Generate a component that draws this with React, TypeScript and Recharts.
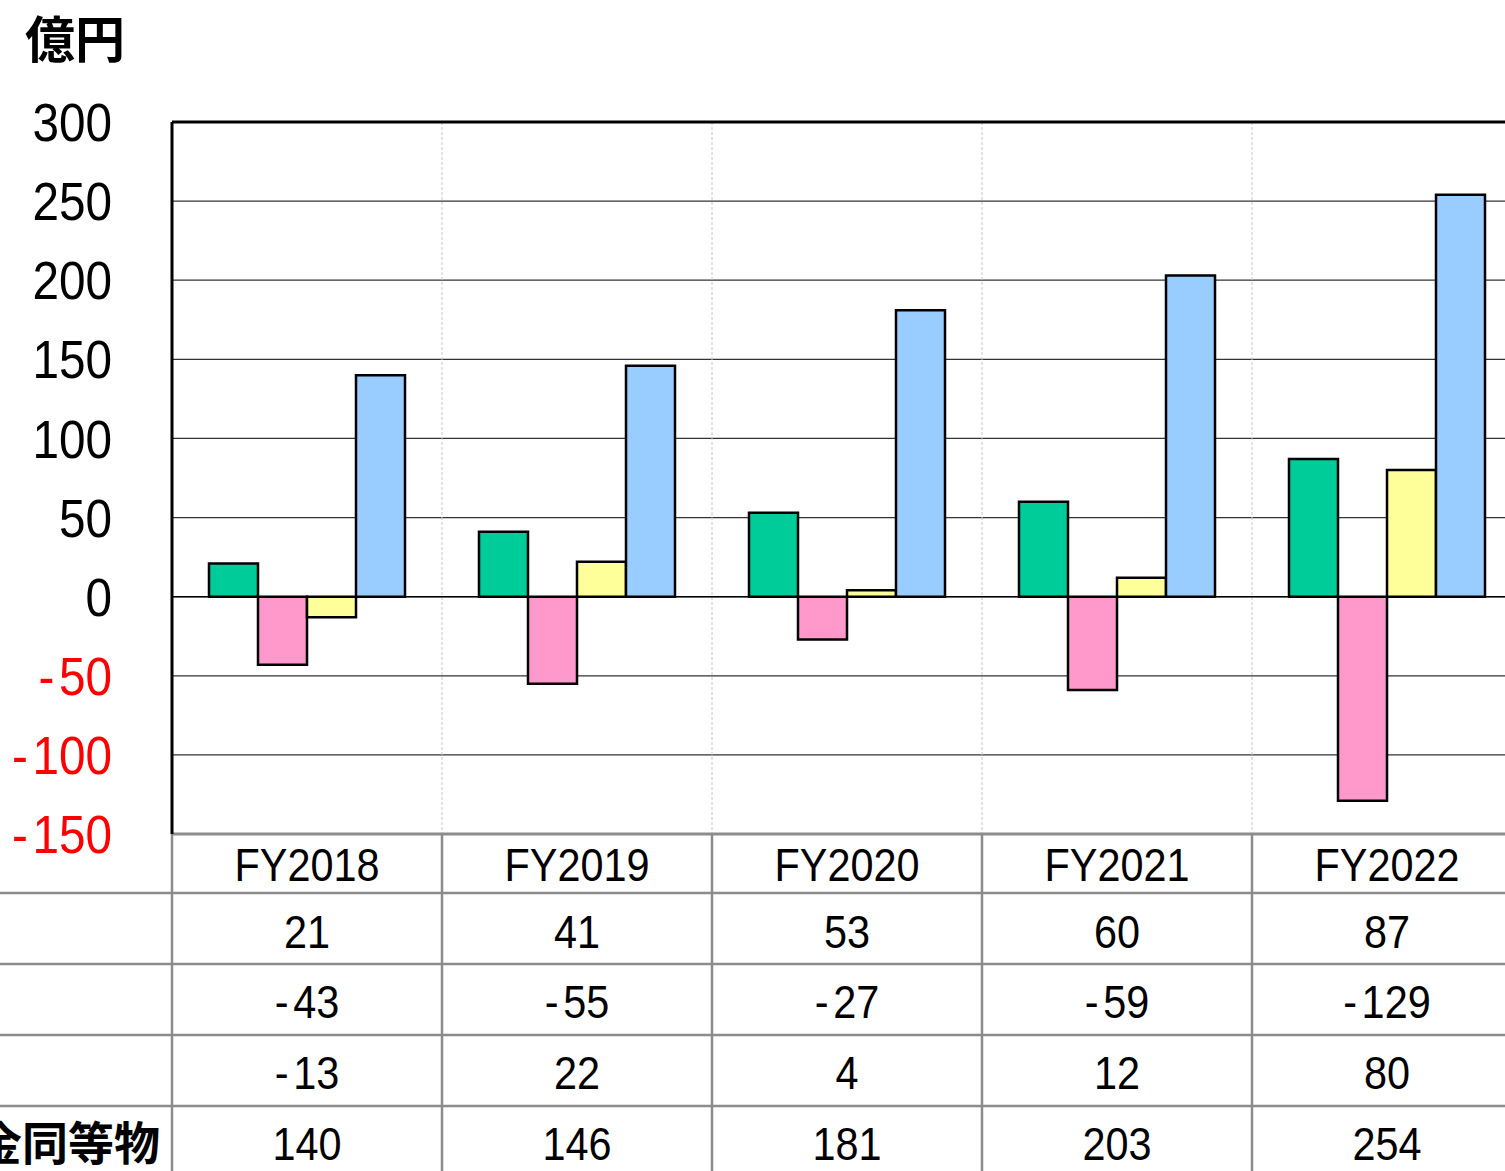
import {
  BarChart,
  Bar,
  XAxis,
  YAxis,
  CartesianGrid,
  ReferenceLine,
  Customized,
} from 'recharts'

const years = ['FY2018', 'FY2019', 'FY2020', 'FY2021', 'FY2022']
const operating = [21, 41, 53, 60, 87]
const investing = [-43, -55, -27, -59, -129]
const financing = [-13, 22, 4, 12, 80]
const cash = [140, 146, 181, 203, 254]
const yTicks = [-150, -100, -50, 0, 50, 100, 150, 200, 250, 300]
const cashLabel = '現金及び現金同等物'

const FONT = '"Liberation Sans", Arial, "Noto Sans CJK JP", sans-serif'
const CJK = '"Noto Sans CJK JP", sans-serif'

const CHART_W = 1530
const CHART_H = 1180
const LEFT_W = 172
const TOP = 122
const TABLE_H = 346
const PLOT_W = CHART_W - LEFT_W - 8
const CAT_W = PLOT_W / years.length
const GRID = '#8c8c8c'

// row offsets inside the table, measured from the plot bottom
const ROW_LINES = [59, 130, 201, 272]
const ROW_TEXT = [30, 97, 167, 238, 309]

const data = years.map((year, i) => ({
  year,
  operating: operating[i],
  investing: investing[i],
  financing: financing[i],
  cash: cash[i],
}))

// negative numbers get a little gap after the minus sign, like the original
function Num({ v }: { v: number | string }) {
  const s = String(v)
  if (s.startsWith('-')) {
    return (
      <>
        <tspan>-</tspan>
        <tspan dx={5}>{s.slice(1)}</tspan>
      </>
    )
  }
  return <>{s}</>
}

function YTick(props: any) {
  const { x, y, payload } = props
  const v = payload.value as number
  return (
    <text
      transform={`translate(${x},${y}) scale(0.9,1)`}
      textAnchor="end"
      dy="0.36em"
      style={{ fontSize: 53, fontFamily: FONT, fill: v < 0 ? '#ff0000' : '#000' }}
    >
      <Num v={v} />
    </text>
  )
}

function TableTick(props: any) {
  const { x, y, index } = props
  const d = data[index]
  const left = x - CAT_W / 2
  const cells = [d.year, d.operating, d.investing, d.financing, d.cash]
  return (
    <g>
      <line x1={left} x2={left} y1={y} y2={y + TABLE_H} stroke={GRID} strokeWidth={2.5} />
      {ROW_LINES.map((r) => (
        <line key={r} x1={left} x2={left + CAT_W} y1={y + r} y2={y + r} stroke={GRID} strokeWidth={2.5} />
      ))}
      {index === 0 &&
        ROW_LINES.map((r) => (
          <line key={'l' + r} x1={left - LEFT_W} x2={left} y1={y + r} y2={y + r} stroke={GRID} strokeWidth={2.5} />
        ))}
      {index === 0 && (
        <text
          x={left - 12}
          y={y + ROW_TEXT[4]}
          dy="0.36em"
          textAnchor="end"
          style={{ fontSize: 46, fontWeight: 700, fontFamily: CJK, fill: '#000' }}
        >
          {cashLabel}
        </text>
      )}
      {cells.map((c, i) => (
        <text
          key={i}
          transform={`translate(${x},${y + ROW_TEXT[i]}) scale(0.9,1)`}
          textAnchor="middle"
          dy="0.36em"
          style={{ fontSize: 46, fontFamily: FONT, fill: '#000' }}
        >
          <Num v={c} />
        </text>
      ))}
    </g>
  )
}

function UnitLabel() {
  return (
    <text x={25} y={58} style={{ fontSize: 50, fontWeight: 700, fontFamily: CJK, fill: '#000' }}>
      億円
    </text>
  )
}

export default function App() {
  return (
    <div
      style={{
        position: 'absolute',
        left: 0,
        top: 0,
        width: 1505,
        height: 1171,
        overflow: 'hidden',
        background: '#fff',
      }}
    >
      <BarChart
        width={CHART_W}
        height={CHART_H}
        data={data}
        margin={{ top: TOP, right: 8, bottom: 0, left: 0 }}
        barSize={49}
        barGap={0}
      >
        <CartesianGrid vertical={false} stroke="#333" strokeWidth={1.2} />
        <CartesianGrid
          horizontal={false}
          stroke="#c8c8c8"
          strokeDasharray="3 2"
          verticalCoordinatesGenerator={({ offset }: any) =>
            years.map((_, i) => offset.left + (i * offset.width) / years.length).slice(1)
          }
        />
        <XAxis
          dataKey="year"
          height={TABLE_H}
          interval={0}
          tickLine={false}
          tickSize={0}
          tickMargin={0}
          axisLine={{ stroke: GRID, strokeWidth: 3 }}
          tick={<TableTick />}
        />
        <YAxis
          type="number"
          domain={[-150, 300]}
          ticks={yTicks}
          width={LEFT_W}
          tickLine={false}
          tickSize={0}
          tickMargin={60}
          axisLine={{ stroke: '#000', strokeWidth: 3 }}
          tick={<YTick />}
          allowDataOverflow
        />
        <Bar dataKey="operating" fill="#00cc99" stroke="#000" strokeWidth={2.5} isAnimationActive={false} />
        <Bar dataKey="investing" fill="#ff99cc" stroke="#000" strokeWidth={2.5} isAnimationActive={false} />
        <Bar dataKey="financing" fill="#ffff99" stroke="#000" strokeWidth={2.5} isAnimationActive={false} />
        <Bar dataKey="cash" fill="#99ccff" stroke="#000" strokeWidth={2.5} isAnimationActive={false} />
        <ReferenceLine y={0} stroke="#000" strokeWidth={1.5} />
        <ReferenceLine y={300} stroke="#000" strokeWidth={3} />
        <Customized component={UnitLabel} />
      </BarChart>
    </div>
  )
}
